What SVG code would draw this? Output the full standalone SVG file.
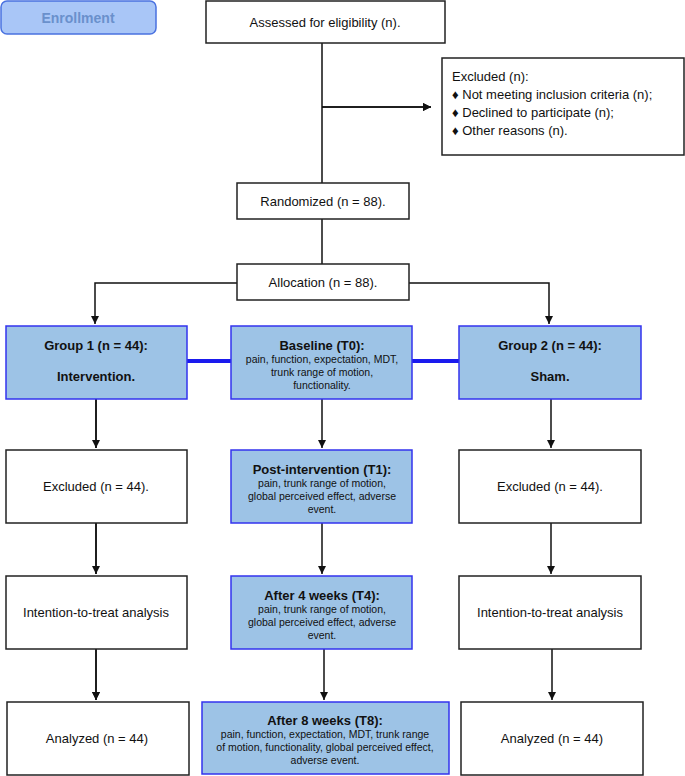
<svg xmlns="http://www.w3.org/2000/svg" width="685" height="776" viewBox="0 0 685 776">
<style>
.w{fill:#fff;stroke:#222;stroke-width:1.5}
.b{fill:#9dc3e6;stroke:#3333ee;stroke-width:1.5}
text{font-family:"Liberation Sans",Arial,sans-serif;fill:#111;text-anchor:middle}
.t{font-size:13px}
.h{font-size:13px;font-weight:bold}
.s{font-size:10.5px}
.c{stroke:#111;stroke-width:1.5;fill:none}
</style>
<defs><marker id="a" markerWidth="10" markerHeight="10" refX="8" refY="4" orient="auto" markerUnits="userSpaceOnUse"><path d="M0,0L8,4L0,8z" fill="#111"/></marker></defs>
<g id="enroll"><rect x="1" y="1" width="155" height="33" rx="6" fill="#a9c6f7" stroke="#4a72e0" stroke-width="1.5"/><text x="78" y="23" style="font-size:14px;font-weight:bold;fill:#6a90cc">Enrollment</text></g>
<g id="conn">
<path class="c" d="M322,43V183M322,107H431" marker-end="url(#a)"/>
<path class="c" d="M322,107H431" marker-end="url(#a)"/>
<path class="c" d="M322,219V264"/>
<path class="c" d="M237,283H95V324" marker-end="url(#a)"/>
<path class="c" d="M409,283H549V324" marker-end="url(#a)"/>
<path d="M187,361H231M412,361H459" stroke="#1a1aee" stroke-width="4"/>
<path class="c" d="M96,399V448M96,523V574M96,649V700" marker-end="url(#a)"/>
<path class="c" d="M96,399V448" marker-end="url(#a)"/>
<path class="c" d="M96,523V574" marker-end="url(#a)"/>
<path class="c" d="M96,649V700" marker-end="url(#a)"/>
<path class="c" d="M322,399V448" marker-end="url(#a)"/>
<path class="c" d="M322,523V574" marker-end="url(#a)"/>
<path class="c" d="M324,649V700" marker-end="url(#a)"/>
<path class="c" d="M551,399V448" marker-end="url(#a)"/>
<path class="c" d="M551,523V574" marker-end="url(#a)"/>
<path class="c" d="M552,649V700" marker-end="url(#a)"/>
</g>
<g id="assessed"><rect class="w" x="206" y="1" width="239" height="42"/><text class="t" x="325" y="27">Assessed for eligibility (n).</text></g>
<g id="excluded"><rect class="w" x="442" y="58" width="242" height="97"/>
<text class="t" x="452" y="81" style="text-anchor:start">Excluded (n):</text>
<text class="t" x="452" y="99" style="text-anchor:start">♦  Not meeting inclusion criteria (n);</text>
<text class="t" x="452" y="117" style="text-anchor:start">♦  Declined to participate (n);</text>
<text class="t" x="452" y="135" style="text-anchor:start">♦  Other reasons (n).</text></g>
<g id="rand"><rect class="w" x="237" y="183" width="172" height="36"/><text class="t" x="323" y="206">Randomized (n = 88).</text></g>
<g id="alloc"><rect class="w" x="237" y="264" width="172" height="36"/><text class="t" x="323" y="287">Allocation (n = 88).</text></g>
<g id="g1"><rect class="b" x="6" y="326" width="181" height="73"/><text class="h" x="96" y="350">Group 1 (n = 44):</text><text class="h" x="96" y="381">Intervention.</text></g>
<g id="base"><rect class="b" x="231" y="326" width="181" height="73"/><text class="h" x="322" y="350">Baseline (T0):</text><text class="s" x="322" y="363">pain, function, expectation, MDT,</text><text class="s" x="322" y="376">trunk range of motion,</text><text class="s" x="322" y="389">functionality.</text></g>
<g id="g2"><rect class="b" x="459" y="326" width="182" height="73"/><text class="h" x="550" y="350">Group 2 (n = 44):</text><text class="h" x="550" y="381">Sham.</text></g>
<g id="ex1"><rect class="w" x="6" y="450" width="181" height="73"/><text class="t" x="96" y="491">Excluded (n = 44).</text></g>
<g id="t1"><rect class="b" x="231" y="450" width="181" height="73"/><text class="h" x="322" y="474">Post-intervention (T1):</text><text class="s" x="322" y="487">pain, trunk range of motion,</text><text class="s" x="322" y="500">global perceived effect, adverse</text><text class="s" x="322" y="513">event.</text></g>
<g id="ex2"><rect class="w" x="459" y="450" width="182" height="73"/><text class="t" x="550" y="491">Excluded (n = 44).</text></g>
<g id="itt1"><rect class="w" x="6" y="576" width="181" height="73"/><text class="t" x="96" y="617">Intention-to-treat analysis</text></g>
<g id="t4"><rect class="b" x="231" y="576" width="181" height="73"/><text class="h" x="322" y="600">After 4 weeks (T4):</text><text class="s" x="322" y="613">pain, trunk range of motion,</text><text class="s" x="322" y="626">global perceived effect, adverse</text><text class="s" x="322" y="639">event.</text></g>
<g id="itt2"><rect class="w" x="459" y="576" width="182" height="73"/><text class="t" x="550" y="617">Intention-to-treat analysis</text></g>
<g id="an1"><rect class="w" x="7" y="702" width="182" height="73"/><text class="t" x="97" y="743">Analyzed (n = 44)</text></g>
<g id="t8"><rect class="b" x="202" y="702" width="247" height="72"/><text class="h" x="325" y="725">After 8 weeks (T8):</text><text class="s" x="325" y="738">pain, function, expectation, MDT, trunk range</text><text class="s" x="325" y="751">of motion, functionality, global perceived effect,</text><text class="s" x="325" y="764">adverse event.</text></g>
<g id="an2"><rect class="w" x="461" y="702" width="182" height="73"/><text class="t" x="552" y="743">Analyzed (n = 44)</text></g>
</svg>
